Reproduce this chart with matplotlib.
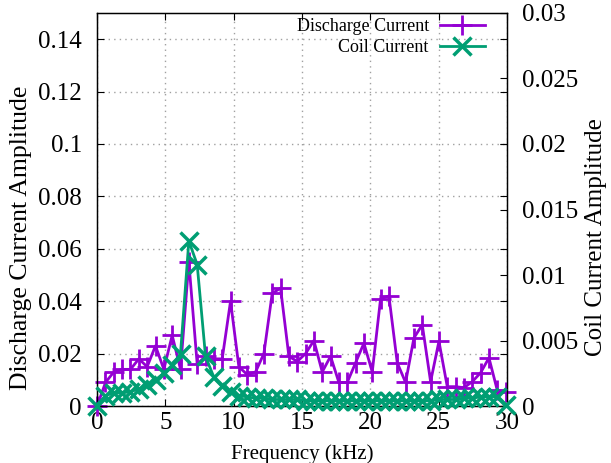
import numpy as np
import matplotlib
matplotlib.use("Agg")
import matplotlib.pyplot as plt
from matplotlib.lines import Line2D

plt.rcParams['font.family'] = ['Liberation Serif', 'DejaVu Serif']

# ------------------------------
# Spectrum data (kHz vs. amplitude)
# ------------------------------
freq_khz = [0.00, 0.61, 1.22, 1.83, 2.44, 3.05, 3.66, 4.27, 4.88, 5.49,
            6.10, 6.71, 7.32, 7.93, 8.54, 9.15, 9.76, 10.37, 10.98, 11.59,
            12.20, 12.81, 13.42, 14.03, 14.64, 15.25, 15.86, 16.47, 17.08, 17.69,
            18.30, 18.91, 19.52, 20.13, 20.74, 21.35, 21.96, 22.57, 23.18, 23.79,
            24.40, 25.01, 25.62, 26.23, 26.84, 27.45, 28.06, 28.67, 29.28, 29.89]

discharge_amp = [0.000, 0.009, 0.013, 0.014, 0.014, 0.018, 0.015, 0.023, 0.014, 0.027,
                 0.014, 0.055, 0.016, 0.019, 0.018, 0.018, 0.040, 0.015, 0.012, 0.013,
                 0.020, 0.043, 0.045, 0.019, 0.017, 0.020, 0.025, 0.013, 0.019, 0.009,
                 0.009, 0.0165, 0.024, 0.013, 0.041, 0.042, 0.0165, 0.009, 0.026, 0.031,
                 0.0093, 0.0247, 0.0074, 0.0074, 0.007, 0.0093, 0.0127, 0.0184, 0.006, 0.0055]

coil_amp = [0.0000, 0.0008, 0.0010, 0.0010, 0.0011, 0.0013, 0.0016, 0.0020, 0.0025, 0.0031,
            0.0040, 0.0126, 0.0108, 0.0038, 0.0022, 0.0015, 0.0011, 0.0008, 0.0007, 0.0006,
            0.0006, 0.0005, 0.0005, 0.0005, 0.0005, 0.0004, 0.0004, 0.0004, 0.0004, 0.0004,
            0.0004, 0.0004, 0.0004, 0.0004, 0.0004, 0.0004, 0.0004, 0.0004, 0.0004, 0.0004,
            0.0004, 0.0005, 0.0005, 0.0005, 0.0006, 0.0006, 0.0007, 0.0007, 0.0007, 0.0001]

x_ticks = [0, 5, 10, 15, 20, 25, 30]
y1_ticks = [0, 0.02, 0.04, 0.06, 0.08, 0.1, 0.12, 0.14]
y1_labels = ['0', '0.02', '0.04', '0.06', '0.08', '0.1', '0.12', '0.14']
y2_ticks = [0, 0.005, 0.01, 0.015, 0.02, 0.025, 0.03]
y2_labels = ['0', '0.005', '0.01', '0.015', '0.02', '0.025', '0.03']

PURPLE = '#9400d3'
GREEN = '#009e73'

fig = plt.figure(figsize=(6.11, 4.63), dpi=100)
ax1 = fig.add_axes([0.159, 0.123, 0.671, 0.849])
ax2 = ax1.twinx()

ax1.plot(freq_khz, discharge_amp, color=PURPLE, lw=2, marker='+', ms=15, mew=2,
         clip_on=False, zorder=3)
ax2.plot(freq_khz, coil_amp, color=GREEN, lw=2, marker='x', ms=13, mew=2.5,
         clip_on=False, zorder=3)

ax1.set_xlim(0, 30)
ax1.set_ylim(0, 0.15)
ax2.set_ylim(0, 0.03)

ax1.set_xticks(x_ticks)
ax1.set_yticks(y1_ticks)
ax1.set_yticklabels(y1_labels)
ax2.set_yticks(y2_ticks)
ax2.set_yticklabels(y2_labels)

ax1.grid(True, color='#a0a0a0', linestyle=(0, (1, 3)), lw=1)
ax1.set_axisbelow(True)

ax1.tick_params(axis='both', direction='in', length=5, labelsize=18, top=True, right=True)
ax1.tick_params(axis='x', pad=4)
ax1.tick_params(axis='y', pad=11)
ax2.tick_params(axis='y', direction='in', length=5, labelsize=18, pad=11)

ax1.set_xlabel('Frequency (kHz)', fontsize=15, labelpad=8)
ax1.set_ylabel('Discharge Current Amplitude', fontsize=18.5)
ax2.set_ylabel('Coil Current Amplitude', fontsize=18)
ax1.yaxis.set_label_coords(-0.16, 0.427)
ax2.yaxis.set_label_coords(1.19, 0.43)

for sp in ax2.spines.values():
    sp.set_linewidth(1)

handles = [Line2D([], [], color=PURPLE, lw=2, marker='+', ms=15, mew=2),
           Line2D([], [], color=GREEN, lw=2, marker='x', ms=13, mew=2.5)]
ax2.legend(handles, ['Discharge Current', 'Coil Current'], loc='upper right',
           bbox_to_anchor=(0.972, 1.015), frameon=False, markerfirst=False,
           fontsize=13, handlelength=2.5, handletextpad=0.6,
           labelspacing=0.25, borderaxespad=0.2)

fig.savefig('out.png', dpi=100)
